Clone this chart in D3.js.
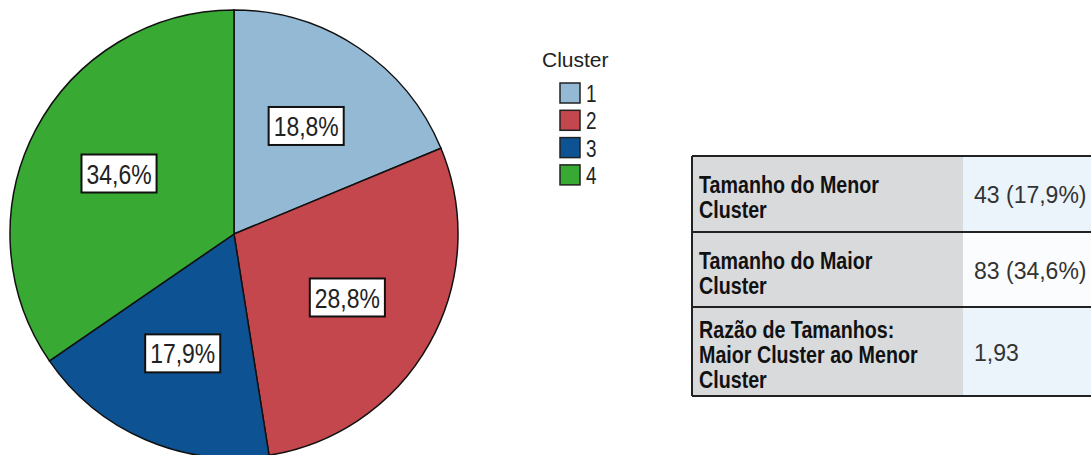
<!DOCTYPE html>
<html>
<head>
<meta charset="utf-8">
<script src="https://cdn.jsdelivr.net/npm/d3@7"></script>
<style>
  body { margin: 0; background: #fff; }
  text { font-family: "Liberation Sans", Arial, sans-serif; }
</style>
</head>
<body>
<script>
let width = 1091;
let height = 455;

// dados do gráfico
const clusters = ["1", "2", "3", "4"];
const clusterSizes = [45, 69, 43, 83];
const clusterColors = ["#93b9d5", "#c4474d", "#0d5393", "#38a932"];
const tableLabels = [
  ["Tamanho do Menor", "Cluster"],
  ["Tamanho do Maior", "Cluster"],
  ["Razão de Tamanhos:", "Maior Cluster ao Menor", "Cluster"]
];

const total = d3.sum(clusterSizes);
const fmt = v => (Math.round(v * 10 + 1e-6) / 10).toFixed(1).replace(".", ",");
const minSize = d3.min(clusterSizes);
const maxSize = d3.max(clusterSizes);
const tableValues = [
  `${minSize} (${fmt(minSize / total * 100)}%)`,
  `${maxSize} (${fmt(maxSize / total * 100)}%)`,
  d3.format(".2f")(maxSize / minSize).replace(".", ",")
];

// fonte estreita (tipo Arial Narrow) simulada com escala horizontal
const narrow = 0.82;

let svg = d3.select("body")
  .append("svg")
  .attr("width", width)
  .attr("height", height);

// pizza
let cx = 234, cy = 234, R = 224;
let pie = d3.pie().sort(null).value(d => d)(clusterSizes);
let arc = d3.arc().innerRadius(0).outerRadius(R);
let labelArc = d3.arc().innerRadius(R * 0.58).outerRadius(R * 0.58);

let g = svg.append("g").attr("transform", `translate(${cx}, ${cy})`);

g.selectAll("path.slice")
  .data(pie)
  .join("path")
  .attr("class", "slice")
  .attr("d", arc)
  .attr("fill", (d, i) => clusterColors[i])
  .attr("stroke", "#111")
  .attr("stroke-width", 1.5);

let labels = g.selectAll("g.lab")
  .data(pie)
  .join("g")
  .attr("class", "lab")
  .attr("transform", d => `translate(${labelArc.centroid(d)})`);

labels.append("g")
  .attr("transform", `scale(${narrow}, 1)`)
  .append("text")
  .attr("text-anchor", "middle")
  .attr("dy", "0.36em")
  .style("font-size", "28px")
  .attr("fill", "#222")
  .text(d => fmt(d.value / total * 100) + "%");

labels.each(function() {
  let bb = d3.select(this).select("text").node().getBBox();
  let w = bb.width * narrow;
  d3.select(this).insert("rect", "g")
    .attr("x", -w / 2 - 5)
    .attr("y", -19)
    .attr("width", w + 10)
    .attr("height", 38)
    .attr("fill", "#fff")
    .attr("stroke", "#111")
    .attr("stroke-width", 2);
});

// legenda
let legend = svg.append("g").attr("transform", "translate(542, 0)");
legend.append("text")
  .attr("x", 0).attr("y", 67)
  .style("font-size", "21px")
  .attr("fill", "#222")
  .text("Cluster");

let items = legend.selectAll("g.item")
  .data(clusters)
  .join("g")
  .attr("class", "item")
  .attr("transform", (d, i) => `translate(18, ${83 + i * 27.3})`);

items.append("rect")
  .attr("width", 20).attr("height", 20)
  .attr("fill", (d, i) => clusterColors[i])
  .attr("stroke", "#222")
  .attr("stroke-width", 1.5);

items.append("g")
  .attr("transform", `translate(26, 19) scale(${narrow}, 1)`)
  .append("text")
  .style("font-size", "23px")
  .attr("fill", "#222")
  .text(d => d);

// tabela
let tx = 692, colX = 963, rowY = [156, 232, 307, 396];
let table = svg.append("g");

tableLabels.forEach((lines, i) => {
  let y0 = rowY[i], y1 = rowY[i + 1];
  table.append("rect")
    .attr("x", tx).attr("y", y0)
    .attr("width", colX - tx).attr("height", y1 - y0)
    .attr("fill", "#d8dadc");
  table.append("rect")
    .attr("x", colX).attr("y", y0)
    .attr("width", width - colX).attr("height", y1 - y0)
    .attr("fill", i === 1 ? "#fbfcfd" : "#ebf3fb");

  let mid = (y0 + y1) / 2;
  let lh = 25;
  let t = table.append("g")
    .attr("transform", `translate(${tx + 7}, 0) scale(${narrow}, 1)`)
    .append("text")
    .style("font-size", "24px")
    .style("font-weight", "bold")
    .attr("fill", "#111");
  lines.forEach((ln, j) => {
    t.append("tspan")
      .attr("x", 0)
      .attr("y", mid - (lines.length - 1) * lh / 2 + j * lh + 12)
      .text(ln);
  });

  table.append("text")
    .attr("x", colX + 11)
    .attr("y", mid + 9)
    .style("font-size", "23px")
    .attr("fill", "#333")
    .text(tableValues[i]);
});

rowY.forEach(y => {
  table.append("line")
    .attr("x1", tx).attr("x2", width)
    .attr("y1", y).attr("y2", y)
    .attr("stroke", "#222").attr("stroke-width", 2);
});
table.append("line")
  .attr("x1", tx).attr("x2", tx)
  .attr("y1", rowY[0]).attr("y2", rowY[3])
  .attr("stroke", "#222").attr("stroke-width", 2);
</script>
</body>
</html>
